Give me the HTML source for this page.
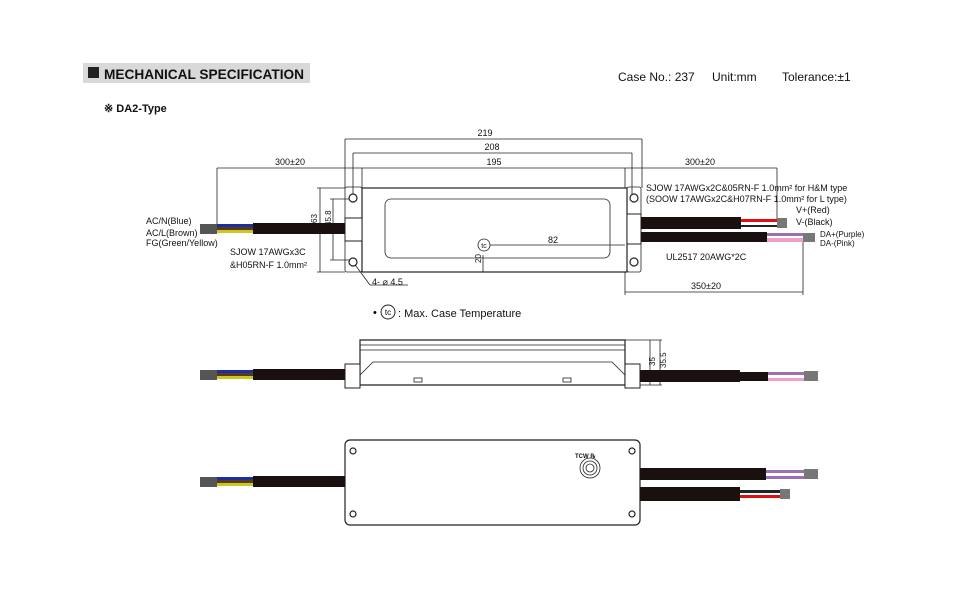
<!DOCTYPE html>
<html><head><meta charset="utf-8"><style>
body{margin:0;background:#fff}
svg{display:block;font-family:"Liberation Sans",sans-serif}
</style></head><body>
<svg width="960" height="600" viewBox="0 0 960 600" xmlns="http://www.w3.org/2000/svg">
<rect width="960" height="600" fill="#fff"/>
<rect x="83" y="63" width="227" height="20" fill="#d9d9d9"/>
<rect x="88" y="67" width="11" height="11" fill="#222"/>
<text x="104" y="79" font-size="14" font-weight="bold" fill="#111" textLength="200" lengthAdjust="spacingAndGlyphs">MECHANICAL SPECIFICATION</text>
<text x="618" y="81" font-size="12" fill="#111">Case No.: 237</text>
<text x="712" y="81" font-size="12" fill="#111">Unit:mm</text>
<text x="782" y="81" font-size="12" fill="#111">Tolerance:±1</text>
<text x="104" y="112" font-size="11" font-weight="bold" fill="#111">※ DA2-Type</text>

<g stroke="#222" stroke-width="0.8" fill="none">
<line x1="345" y1="139" x2="642" y2="139"/><line x1="345" y1="139" x2="345" y2="188"/><line x1="642" y1="139" x2="642" y2="188"/>
<line x1="353" y1="153" x2="632" y2="153"/><line x1="353" y1="153" x2="353" y2="200"/><line x1="632" y1="153" x2="632" y2="200"/>
<line x1="217" y1="168" x2="777" y2="168"/><line x1="217" y1="168" x2="217" y2="228"/><line x1="362" y1="168" x2="362" y2="188"/><line x1="625" y1="168" x2="625" y2="188"/><line x1="777" y1="168" x2="777" y2="220"/>
<line x1="625" y1="292" x2="803" y2="292"/><line x1="625" y1="272" x2="625" y2="295"/><line x1="803" y1="242" x2="803" y2="295"/>
<line x1="320" y1="188" x2="320" y2="272"/><line x1="317" y1="188" x2="345" y2="188"/><line x1="317" y1="272" x2="345" y2="272"/>
<line x1="333" y1="199" x2="333" y2="260"/><line x1="330" y1="199" x2="352" y2="199"/><line x1="330" y1="260" x2="352" y2="260"/>
<line x1="484" y1="245" x2="625" y2="245"/><line x1="483" y1="255" x2="483" y2="272"/>
<line x1="353" y1="262" x2="370" y2="285"/><line x1="370" y1="285" x2="408" y2="285"/>
<rect x="345" y="187" width="17" height="85" rx="2"/>
<rect x="627" y="187" width="14" height="85" rx="2"/>
<rect x="362" y="188" width="265" height="84" stroke-width="1.2"/>
<rect x="385" y="199" width="225" height="59" rx="6"/>
<circle cx="484" cy="245" r="6" fill="#fff"/>
<path d="M360 340 H625 V385 H360 Z" stroke-width="1.2"/>
<line x1="360" y1="345" x2="625" y2="345"/><line x1="360" y1="350" x2="625" y2="350"/>
<path d="M360 375 L373 362 H612 L625 375"/>
<rect x="414" y="378" width="8" height="4"/><rect x="563" y="378" width="8" height="4"/>
<line x1="650" y1="340" x2="650" y2="385"/><line x1="660" y1="340" x2="660" y2="385"/><line x1="625" y1="340" x2="662" y2="340"/><line x1="625" y1="385" x2="662" y2="385"/>
<rect x="345" y="440" width="295" height="85" rx="5" stroke-width="1.2"/>
<circle cx="590" cy="468" r="10"/><circle cx="590" cy="468" r="7"/><circle cx="590" cy="468" r="4"/>
</g>
<g fill="#fff" stroke="#222" stroke-width="1.2">
<circle cx="353" cy="198" r="4"/><circle cx="353" cy="262" r="4"/><circle cx="634" cy="198" r="4"/><circle cx="634" cy="262" r="4"/>
<circle cx="353" cy="451" r="3"/><circle cx="353" cy="514" r="3"/><circle cx="632" cy="451" r="3"/><circle cx="632" cy="514" r="3"/>
</g>
<g fill="#fff" stroke="#222" stroke-width="1">
<rect x="345" y="218" width="17" height="23"/><rect x="627" y="214" width="14" height="30"/>
<rect x="345" y="364" width="15" height="24"/><rect x="625" y="364" width="15" height="24"/>
</g>
<g>
<rect x="200" y="224" width="17" height="10" fill="#555"/>
<rect x="217" y="224" width="36" height="3" fill="#1a2fa0"/><rect x="217" y="227" width="36" height="3" fill="#5a3a1a"/><rect x="217" y="230" width="36" height="3" fill="#c8c820"/>
<rect x="253" y="223" width="92" height="11" fill="#1a1010"/>
<rect x="200" y="370" width="17" height="10" fill="#555"/>
<rect x="217" y="370" width="36" height="3" fill="#1a2fa0"/><rect x="217" y="373" width="36" height="3" fill="#5a3a1a"/><rect x="217" y="376" width="36" height="3" fill="#c8c820"/>
<rect x="253" y="369" width="92" height="11" fill="#1a1010"/>
<rect x="200" y="477" width="17" height="10" fill="#555"/>
<rect x="217" y="477" width="36" height="3" fill="#1a2fa0"/><rect x="217" y="480" width="36" height="3" fill="#5a3a1a"/><rect x="217" y="483" width="36" height="3" fill="#c8c820"/>
<rect x="253" y="476" width="92" height="11" fill="#1a1010"/>
</g>
<rect x="641" y="217" width="100" height="12" fill="#1a1010"/>
<rect x="741" y="219" width="36" height="3" fill="#e01010"/><rect x="741" y="225" width="36" height="2" fill="#222"/>
<rect x="777" y="218" width="10" height="10" fill="#777"/>
<rect x="641" y="232" width="126" height="10" fill="#1a1010"/>
<rect x="767" y="233" width="36" height="3" fill="#9a70b0"/><rect x="767" y="238" width="36" height="4" fill="#f0a0c8"/>
<rect x="803" y="233" width="12" height="9" fill="#777"/>
<rect x="640" y="370" width="100" height="12" fill="#1a1010"/><rect x="740" y="372" width="28" height="9" fill="#1a1010"/>
<rect x="768" y="372" width="36" height="3" fill="#9a70b0"/><rect x="768" y="378" width="36" height="3" fill="#f0a0c8"/><rect x="804" y="371" width="14" height="10" fill="#777"/>
<rect x="640" y="468" width="126" height="12" fill="#1a1010"/>
<rect x="766" y="470" width="38" height="3" fill="#9a70b0"/><rect x="766" y="476" width="38" height="3" fill="#9a70b0"/><rect x="804" y="469" width="14" height="10" fill="#777"/>
<rect x="640" y="487" width="100" height="14" fill="#1a1010"/>
<rect x="740" y="490" width="40" height="3" fill="#222"/><rect x="740" y="495" width="40" height="3" fill="#e01010"/><rect x="780" y="489" width="10" height="10" fill="#777"/>
<g font-size="9" fill="#111">
<text x="485" y="136" text-anchor="middle">219</text>
<text x="492" y="150" text-anchor="middle">208</text>
<text x="494" y="165" text-anchor="middle">195</text>
<text x="290" y="165" text-anchor="middle">300±20</text>
<text x="700" y="165" text-anchor="middle">300±20</text>
<text x="706" y="289" text-anchor="middle">350±20</text>
<text x="553" y="243" text-anchor="middle">82</text>
<text x="146" y="224">AC/N(Blue)</text>
<text x="146" y="236">AC/L(Brown)</text>
<text x="146" y="246">FG(Green/Yellow)</text>
<text x="230" y="255">SJOW 17AWGx3C</text>
<text x="230" y="268">&amp;H05RN-F 1.0mm²</text>
<text x="372" y="285">4- ⌀ 4.5</text>
<text x="646" y="191">SJOW 17AWGx2C&amp;05RN-F 1.0mm² for H&amp;M type</text>
<text x="646" y="202">(SOOW 17AWGx2C&amp;H07RN-F 1.0mm² for L type)</text>
<text x="796" y="213">V+(Red)</text>
<text x="796" y="225">V-(Black)</text>
<text x="820" y="237" font-size="8">DA+(Purple)</text>
<text x="820" y="246" font-size="8">DA-(Pink)</text>
<text x="666" y="260">UL2517 20AWG*2C</text>
<text x="484" y="248" text-anchor="middle" font-size="7">tc</text>
<text transform="translate(317 223) rotate(-90)" font-size="8">63</text>
<text transform="translate(331 226) rotate(-90)" font-size="8">45.8</text>
<text transform="translate(481 263) rotate(-90)" font-size="8">20</text>
<text transform="translate(655 366) rotate(-90)" font-size="8">35</text>
<text transform="translate(666 368) rotate(-90)" font-size="8">35.5</text>
<text x="575" y="458" font-size="6" font-weight="bold">TCW ℞</text>
</g>
<circle cx="388" cy="312" r="7" fill="none" stroke="#222"/>
<text x="388" y="315" font-size="8" text-anchor="middle">tc</text>
<text x="373" y="316" font-size="11">•</text>
<text x="398" y="317" font-size="11" fill="#111">: Max. Case Temperature</text>
</svg>
</body></html>
